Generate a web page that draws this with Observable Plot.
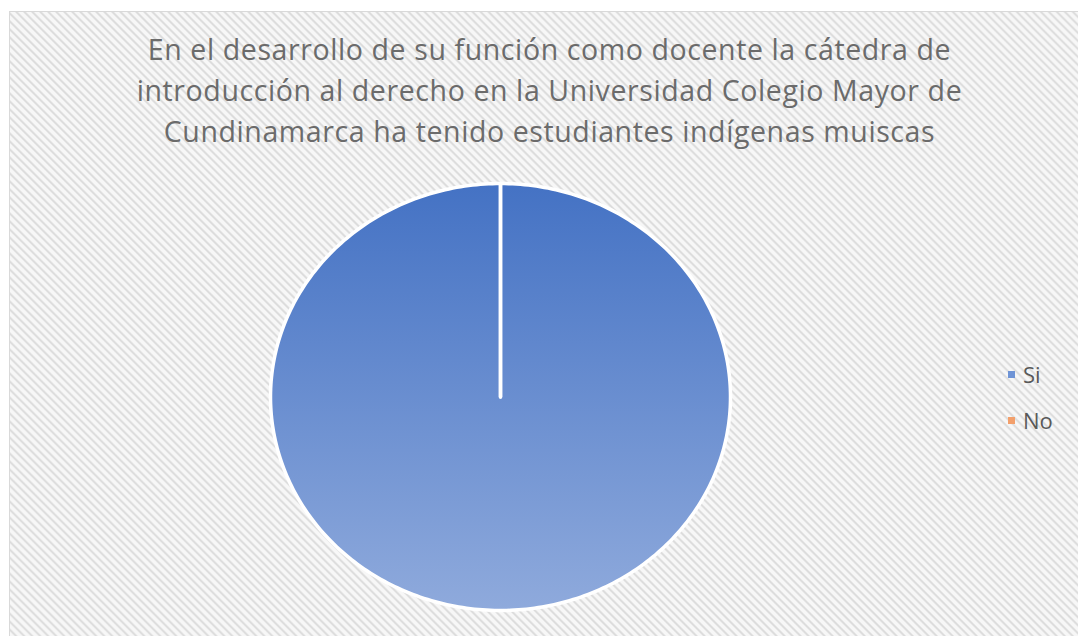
<!DOCTYPE html>
<html>
<head>
<meta charset="utf-8">
<script src="https://cdn.jsdelivr.net/npm/d3@7"></script>
<script src="https://cdn.jsdelivr.net/npm/@observablehq/plot@0.6"></script>
<style>
  html, body { margin: 0; padding: 0; background: #fff; }
  #wrap { position: relative; width: 1078px; height: 636px; overflow: hidden; }
  #bg { position: absolute; left: 9px; top: 11px; width: 1080px; height: 640px;
        border: 1.5px solid #d9d9d9; box-sizing: border-box;
        background: repeating-linear-gradient(45deg, #f7f7f7 0px, #f7f7f7 1.2px, #dcdcdc 2.6px, #dcdcdc 3.2px, #f7f7f7 4.6px, #f7f7f7 5.66px); }
  #title { position: absolute; left: 0; top: 29px; width: 1099px; text-align: center;
           font-family: "Open Sans", sans-serif; font-size: 28.5px; letter-spacing: 0.6px; line-height: 41px; color: #6b6b6b; }
  #chart { position: absolute; left: 0; top: 0; }
  #legend { position: absolute; left: 1008px; top: 359px; font-family: "Open Sans", sans-serif; font-size: 22px; color: #595959; }
  .item { display: flex; align-items: center; height: 30px; margin-bottom: 16px; }
  .sw { width: 7px; height: 7px; margin-right: 8px; }
</style>
</head>
<body>
<div id="wrap">
  <div id="bg"></div>
  <div id="chart"></div>
  <div id="title">En el desarrollo de su función como docente la cátedra de<br>introducción al derecho en la Universidad Colegio Mayor de<br>Cundinamarca ha tenido estudiantes indígenas muiscas</div>
  <div id="legend"></div>
</div>
<script>
const categories = ["Si", "No"];
const values = [100, 0];
const colors = ["#4472c4", "#ed7d31"];
const swatchColors = ["#6f94d6", "#f3a06c"];

const arcs = d3.pie().sort(null).value(d => d)(values);
const rows = [];
arcs.forEach((a, i) => {
  const cat = categories[i];
  rows.push({cat, x: 0, y: 0});
  const n = Math.max(2, Math.ceil((a.endAngle - a.startAngle) / (Math.PI / 180)) + 1);
  for (let k = 0; k < n; k++) {
    const t = a.startAngle + (a.endAngle - a.startAngle) * k / (n - 1);
    rows.push({cat, x: Math.sin(t), y: Math.cos(t)});
  }
  rows.push({cat, x: 0, y: 0});
});

const plot = Plot.plot({
  width: 1078,
  height: 636,
  style: {background: "transparent", overflow: "visible"},
  x: {domain: [-1, 1], range: [270, 730], axis: null},
  y: {domain: [-1, 1], range: [610, 183], axis: null},
  marks: [
    Plot.line(rows, {x: "x", y: "y", z: "cat", fill: "cat", stroke: "#ffffff", strokeWidth: 3.5, curve: "linear"})
  ],
  color: {domain: categories, range: colors}
});
document.getElementById("chart").appendChild(plot);

const svg = d3.select(plot);
const defs = svg.insert("defs", ":first-child");
const g = defs.append("linearGradient").attr("id", "gradSi").attr("x1", 0).attr("y1", 0).attr("x2", 0).attr("y2", 1);
g.append("stop").attr("offset", "0%").attr("stop-color", "#4472c4");
g.append("stop").attr("offset", "100%").attr("stop-color", "#8faadc");
svg.selectAll("path").filter(function() { return d3.select(this).attr("fill") === colors[0]; }).attr("fill", "url(#gradSi)");

const legend = d3.select("#legend");
categories.forEach((c, i) => {
  const it = legend.append("div").attr("class", "item");
  it.append("div").attr("class", "sw").style("background", swatchColors[i]);
  it.append("span").text(c);
});
</script>
</body>
</html>
